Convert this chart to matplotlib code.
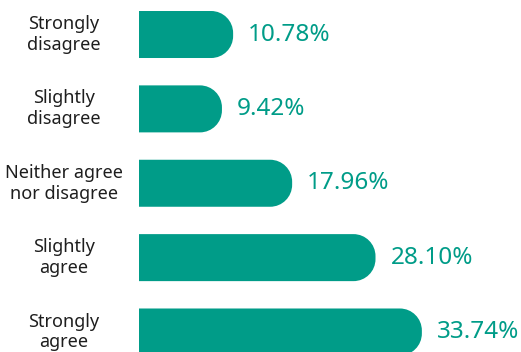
import matplotlib.pyplot as plt
from matplotlib.path import Path
from matplotlib.patches import PathPatch

categories = ["Strongly\ndisagree", "Slightly\ndisagree", "Neither agree\nnor disagree",
              "Slightly\nagree", "Strongly\nagree"]
values = [10.78, 9.42, 17.96, 28.10, 33.74]

teal = "#009C88"
plt.rcParams['font.family'] = ['Noto Sans', 'DejaVu Sans']

fig = plt.figure(figsize=(5.21, 3.52), dpi=100)
ax = fig.add_axes([139 / 521, 0, 382 / 521, 1])
xmin, xmax = -0.67, 45.8
ax.set_xlim(xmin, xmax)
ax.set_ylim(4.269, -0.464)
ax.axis('off')

# pixels per data unit, used to keep the rounded end circular
px_x = 382 / (xmax - xmin)
px_y = 352 / (4.269 + 0.464)
h = 0.632
r_px = 22
rx, ry = r_px / px_x, r_px / px_y
k = 0.5523


def rounded_bar(y, x1):
    x0 = xmin
    top, bot = y - h / 2, y + h / 2
    verts = [
        (x0, top), (x1 - rx, top),
        (x1 - rx + k * rx, top), (x1, top + ry - k * ry), (x1, top + ry),
        (x1, bot - ry),
        (x1, bot - ry + k * ry), (x1 - rx + k * rx, bot), (x1 - rx, bot),
        (x0, bot), (x0, top),
    ]
    codes = [Path.MOVETO, Path.LINETO,
             Path.CURVE4, Path.CURVE4, Path.CURVE4,
             Path.LINETO,
             Path.CURVE4, Path.CURVE4, Path.CURVE4,
             Path.LINETO, Path.CLOSEPOLY]
    return PathPatch(Path(verts, codes), facecolor=teal, edgecolor='none')


for i, (cat, v) in enumerate(zip(categories, values)):
    ax.add_patch(rounded_bar(i, v))
    ax.text(v + 15 / px_x, i, f"{v:.2f}%", color=teal, fontsize=17.5,
            va='center', ha='left', fontweight='light')
    ax.text((64 - 139) / px_x + xmin, i, cat, color='#1e1e1e', fontsize=13,
            va='center', ha='center', linespacing=1.2)

fig.savefig("out.png", dpi=100)
